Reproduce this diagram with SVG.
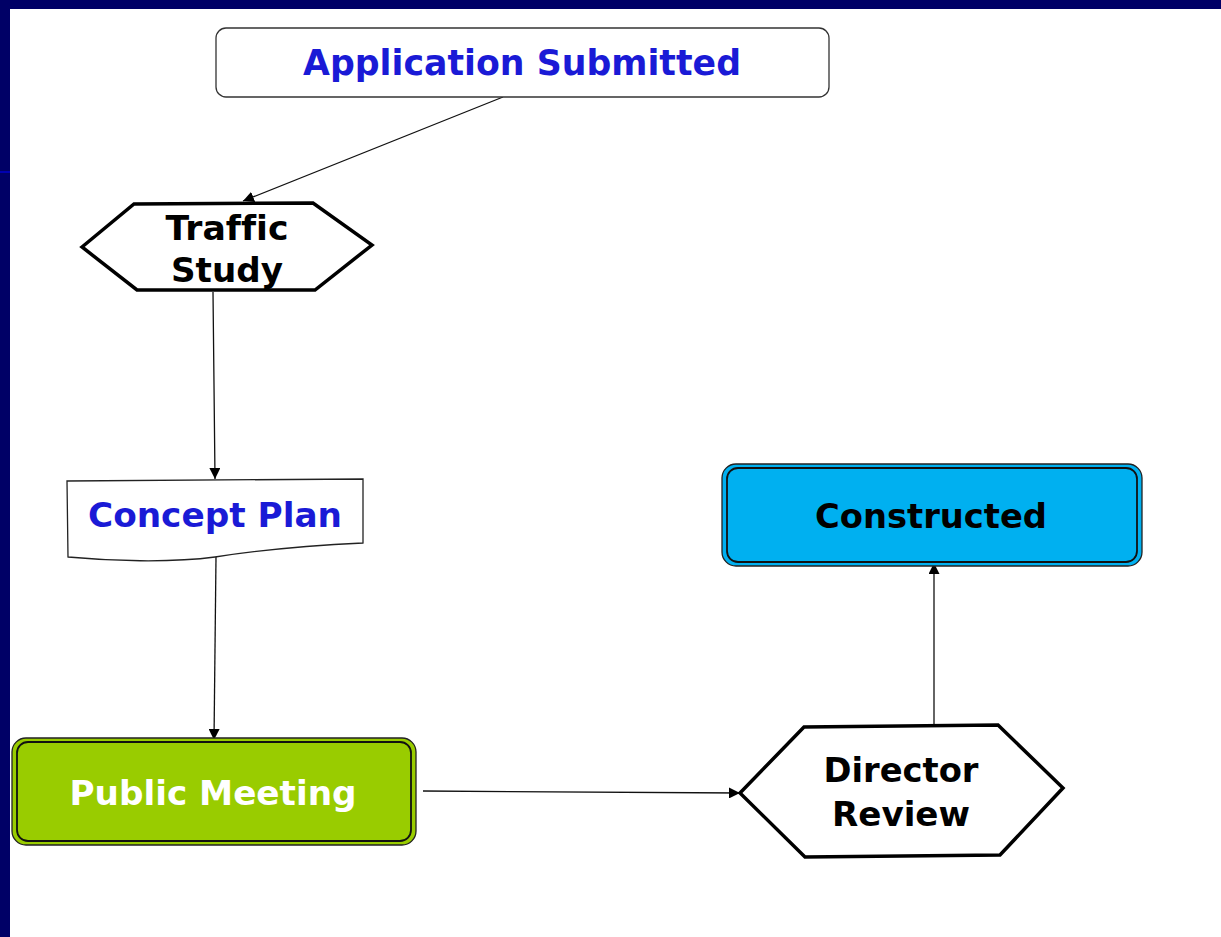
<svg xmlns="http://www.w3.org/2000/svg" width="1221" height="937" viewBox="0 0 1221 937">
<defs>
<marker id="ah" viewBox="0 0 10 10" refX="10" refY="5" markerWidth="11" markerHeight="11" markerUnits="userSpaceOnUse" orient="auto">
<path d="M0,0 L10,5 L0,10 z" fill="#000"/>
</marker>
</defs>
<style>
.t{font-family:"DejaVu Sans","Verdana",sans-serif;font-weight:bold;text-anchor:middle;font-variant-ligatures:none}
.blue{fill:#1a1ad6}
.conn{stroke:#111;stroke-width:1.3;fill:none;marker-end:url(#ah)}
.hex{fill:#fff;stroke:#000;stroke-width:3.5;stroke-linejoin:miter}
</style>
<rect x="0" y="0" width="1221" height="937" fill="#fff"/>
<rect x="0" y="0" width="1221" height="9" fill="#000066"/>
<rect x="0" y="0" width="10" height="937" fill="#000066"/>
<rect x="0" y="171" width="10" height="2" fill="#0000b0"/>
<g id="connectors">
<path class="conn" d="M503,97 L243,201"/>
<path class="conn" d="M213,292 L214,385 L215,479"/>
<path class="conn" d="M216,557 L214,740"/>
<path class="conn" d="M423,791 L740,793"/>
<path class="conn" d="M934,725 L934,563"/>
</g>
<g id="application-submitted">
<rect x="216" y="28" width="613" height="69" rx="10" fill="#fff" stroke="#333" stroke-width="1.3"/>
<text class="t blue" x="522" y="75" font-size="35" textLength="438" lengthAdjust="spacingAndGlyphs">Application Submitted</text>
</g>
<g id="traffic-study">
<polygon class="hex" points="82,247 134,204 313,203 372,245 315,290 137,290"/>
<text class="t" x="227" y="240" font-size="33" textLength="123" lengthAdjust="spacingAndGlyphs" fill="#000">Traffic</text>
<text class="t" x="227" y="282" font-size="33" textLength="112" lengthAdjust="spacingAndGlyphs" fill="#000">Study</text>
</g>
<g id="concept-plan">
<path d="M67,481 L363,479 L363,543 C320,545 260,550 215,557 C170,563 110,561 68,557 Z" fill="#fff" stroke="#222" stroke-width="1.3"/>
<text class="t blue" x="215" y="527" font-size="34" textLength="254" lengthAdjust="spacingAndGlyphs">Concept Plan</text>
</g>
<g id="public-meeting">
<rect x="12" y="738" width="404" height="107" rx="14" fill="#99cc00" stroke="#222" stroke-width="1.3"/>
<rect x="17" y="742" width="394" height="99" rx="11" fill="none" stroke="#111" stroke-width="1.8"/>
<text class="t" x="213" y="805" font-size="34" textLength="287" lengthAdjust="spacingAndGlyphs" fill="#fff">Public Meeting</text>
</g>
<g id="director-review">
<polygon class="hex" points="740,793 804,727 998,725 1063,788 1000,855 805,857"/>
<text class="t" x="901" y="782" font-size="33" textLength="155" lengthAdjust="spacingAndGlyphs" fill="#000">Director</text>
<text class="t" x="901" y="826" font-size="33" textLength="138" lengthAdjust="spacingAndGlyphs" fill="#000">Review</text>
</g>
<g id="constructed">
<rect x="722" y="464" width="420" height="102" rx="14" fill="#00b0f0" stroke="#222" stroke-width="1.3"/>
<rect x="727" y="468" width="410" height="94" rx="11" fill="none" stroke="#111" stroke-width="1.8"/>
<text class="t" x="931" y="528" font-size="34" textLength="232" lengthAdjust="spacingAndGlyphs" fill="#000">Constructed</text>
</g>
</svg>
